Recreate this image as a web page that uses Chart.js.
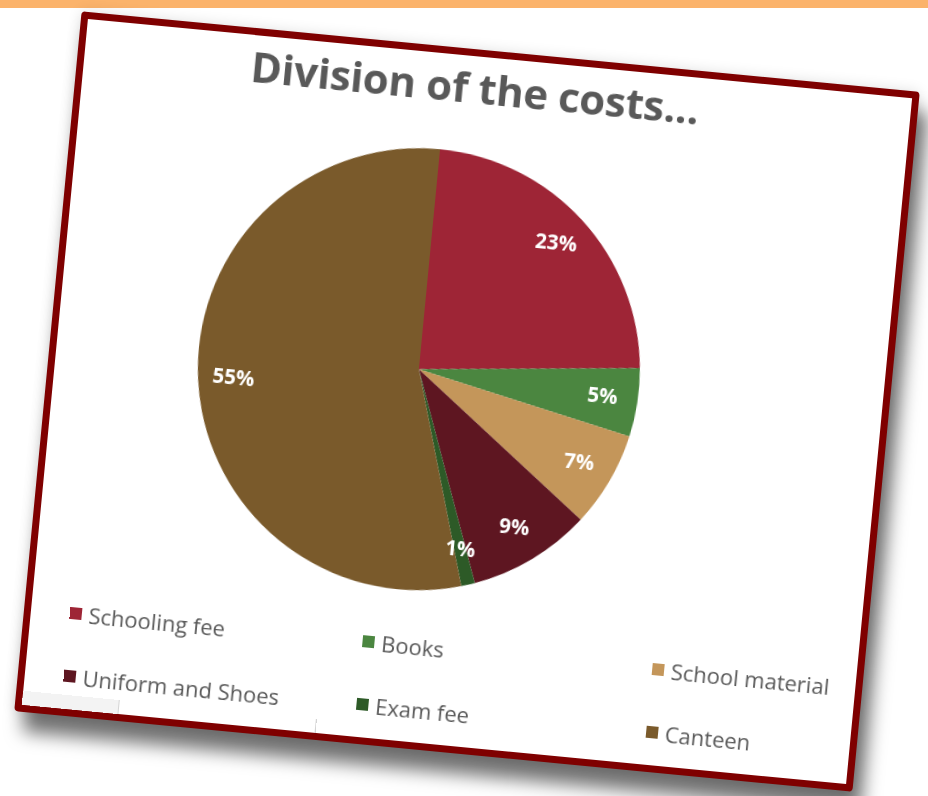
<!DOCTYPE html>
<html>
<head>
<meta charset="utf-8">
<script src="https://cdn.jsdelivr.net/npm/chart.js@4.4.0/dist/chart.umd.min.js"></script>
<style>
    body {
        margin: 0;
        width: 928px;
        height: 796px;
        overflow: hidden;
        background: #ffffff;
        font-family: 'Open Sans', sans-serif;
    }
    .strip {
        position: absolute;
        left: 0;
        top: 0;
        width: 928px;
        height: 8px;
        background: #fbb36b;
    }
    .card {
        position: absolute;
        left: 46px;
        top: 50px;
        width: 842px;
        height: 703px;
        box-sizing: border-box;
        border: 7px solid #7f0000;
        border-radius: 4px;
        background: #ffffff;
        transform: rotate(5.5deg);
        box-shadow: 0 0 14px rgba(0, 0, 0, 0.12), 10px 20px 18px rgba(0, 0, 0, 0.55);
    }
    .title {
        position: absolute;
        left: 0;
        top: 2px;
        width: 784px;
        text-align: center;
        font-size: 42px;
        font-weight: 700;
        letter-spacing: -0.3px;
        color: #595959;
    }
    #chart {
        position: absolute;
        left: 0;
        top: 0;
    }
    .legend-item {
        position: absolute;
        font-size: 22px;
        color: #595959;
        white-space: nowrap;
        line-height: 26px;
    }
    .legend-item span {
        display: inline-block;
        width: 12px;
        height: 12px;
        margin-right: 7px;
        vertical-align: 3px;
    }
    .cells {
        position: absolute;
        left: 0;
        bottom: 0;
        width: 100%;
        height: 14px;
    }
    .cell-line {
        position: absolute;
        bottom: 0;
        width: 1px;
        height: 14px;
        background: #d4d4d4;
    }
</style>
</head>
<body>
<div class="strip"></div>
<div class="card">
    <canvas id="chart" width="828" height="689"></canvas>
    <div class="title">Division of the costs...</div>
    <div class="cells">
        <div style="position:absolute;left:0;bottom:0;width:96px;height:14px;background:#f3f3f3"></div>
        <div class="cell-line" style="left:96px"></div>
        <div class="cell-line" style="left:294px"></div>
    </div>
    <div id="legend"></div>
</div>
<script>
const labels = ['Schooling fee', 'Books', 'School material', 'Uniform and Shoes', 'Exam fee', 'Canteen'];
const values = [23.4, 5.0, 7.0, 9.0, 1.0, 54.6];
const colors = ['#9e2536', '#4b8640', '#c4965a', '#5e1621', '#2d5a27', '#7a5a2b'];

// legend in the excel layout: 3 columns, 2 rows
const legendCols = [39, 333, 624];
const legendRows = [580, 643];

function makeLegend() {
    let legend = document.getElementById('legend');
    for (let i = 0; i < labels.length; i++) {
        let item = document.createElement('div');
        item.className = 'legend-item';
        item.style.left = legendCols[i % 3] + 'px';
        item.style.top = legendRows[Math.floor(i / 3)] + 'px';
        item.innerHTML = '<span style="background:' + colors[i] + '"></span>' + labels[i];
        legend.appendChild(item);
    }
}

const percentLabels = {
    id: 'percentLabels',
    afterDatasetsDraw(chart) {
        const ctx = chart.ctx;
        const meta = chart.getDatasetMeta(0);
        const total = values.reduce((a, b) => a + b, 0);
        ctx.save();
        ctx.fillStyle = '#ffffff';
        ctx.font = 'bold 20.5px "Open Sans"';
        ctx.textAlign = 'center';
        ctx.textBaseline = 'middle';
        meta.data.forEach((arc, i) => {
            let p = arc.getProps(['x', 'y', 'startAngle', 'endAngle', 'outerRadius'], true);
            let mid = (p.startAngle + p.endAngle) / 2;
            let r = p.outerRadius * 0.84;
            let text = Math.round(values[i] / total * 100) + '%';
            ctx.fillText(text, p.x + Math.cos(mid) * r, p.y + Math.sin(mid) * r);
        });
        ctx.restore();
    }
};

new Chart(document.getElementById('chart'), {
    type: 'pie',
    data: {
        labels: labels,
        datasets: [{
            data: values,
            backgroundColor: colors,
            borderWidth: 0
        }]
    },
    options: {
        responsive: false,
        animation: false,
        layout: {
            padding: { left: 142, right: 244, top: 96, bottom: 151 }
        },
        plugins: {
            legend: { display: false },
            tooltip: { enabled: false }
        }
    },
    plugins: [percentLabels]
});

makeLegend();
</script>
</body>
</html>
